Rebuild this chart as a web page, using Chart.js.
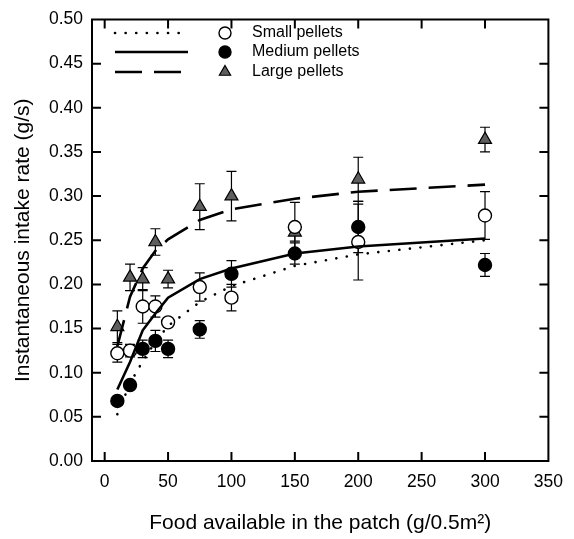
<!DOCTYPE html>
<html><head><meta charset="utf-8">
<script src="https://cdn.jsdelivr.net/npm/chart.js@4.4.1/dist/chart.umd.min.js"></script>
<style>html,body{margin:0;padding:0;background:#fff}canvas{display:block}</style>
</head><body>
<canvas id="c" width="574" height="539"></canvas>
<script>
// ---- data ----
const food = [10, 20, 30, 40, 50, 75, 100, 150, 200, 300];
const smallMean  = [0.122, 0.125, 0.175, 0.175, 0.157, 0.197, 0.185, 0.265, 0.248, 0.278];
const smallErr   = [0.010, 0.007, 0.019, 0.012, 0.004, 0.016, 0.015, 0.028, 0.043, 0.027];
const mediumMean = [0.068, 0.086, 0.127, 0.136, 0.127, 0.149, 0.212, 0.235, 0.265, 0.222];
const mediumErr  = [0.002, 0.002, 0.010, 0.012, 0.010, 0.010, 0.015, 0.012, 0.029, 0.013];
const largeMean  = [0.152, 0.208, 0.206, 0.248, 0.206, 0.288, 0.300, 0.259, 0.319, 0.364];
const largeErr   = [0.018, 0.015, 0.013, 0.015, 0.010, 0.026, 0.028, 0.010, 0.025, 0.014];
const smallFit   = [0.053, 0.088, 0.113, 0.135, 0.153, 0.180, 0.198, 0.221, 0.234, 0.250];
const mediumFit  = [0.081, 0.112, 0.148, 0.167, 0.185, 0.206, 0.218, 0.235, 0.243, 0.252];
const largeFit   = [0.130, 0.186, 0.218, 0.238, 0.251, 0.273, 0.285, 0.297, 0.305, 0.313];
const xTicks = [0, 50, 100, 150, 200, 250, 300, 350];
const yTicks = [0, 0.05, 0.10, 0.15, 0.20, 0.25, 0.30, 0.35, 0.40, 0.45, 0.50];
const seriesNames = ['Small pellets', 'Medium pellets', 'Large pellets'];
const xTitle = 'Food available in the patch (g/0.5m\u00B2)';
const yTitle = 'Instantaneous intake rate (g/s)';

const pts = (ys) => food.map((x, i) => ({x: x, y: ys[i]}));
const FONT = '"Liberation Sans", Arial, Helvetica, sans-serif';

const styles = {
  dotted: {borderColor: '#000', borderWidth: 2.6, borderDash: [0.1, 10.5], borderCapStyle: 'round'},
  solid:  {borderColor: '#000', borderWidth: 2.6, borderDash: []},
  dashed: {borderColor: '#000', borderWidth: 2.6, borderDash: [27, 12]}
};
const markers = [
  {pointStyle: 'circle', pointRadius: 6.5, pointBackgroundColor: '#fff', pointBorderColor: '#000', pointBorderWidth: 1.4},
  {pointStyle: 'circle', pointRadius: 6.5, pointBackgroundColor: '#000', pointBorderColor: '#000', pointBorderWidth: 1.4},
  {pointStyle: 'triangle', pointRadius: 7.5, pointBackgroundColor: '#5e5e5e', pointBorderColor: '#000', pointBorderWidth: 1.2}
];

const errorSets = [
  {mean: smallMean, err: smallErr},
  {mean: mediumMean, err: mediumErr},
  {mean: largeMean, err: largeErr}
];

function lineDs(data, st) {
  return Object.assign({type: 'scatter', data: pts(data), showLine: true, pointRadius: 0,
    pointHoverRadius: 0, fill: false, tension: 0}, st);
}
function markDs(data, mk) {
  return Object.assign({type: 'scatter', data: pts(data), showLine: false}, mk);
}

const framePlugin = {
  id: 'frame',
  beforeDatasetsDraw(chart) {
    const {ctx, scales: {x, y}} = chart;
    ctx.save();
    ctx.strokeStyle = '#000';
    ctx.lineWidth = 1.2;
    errorSets.forEach(s => {
      s.mean.forEach((m, i) => {
        const px = x.getPixelForValue(food[i]);
        const yt = y.getPixelForValue(m + s.err[i]);
        const yb = y.getPixelForValue(m - s.err[i]);
        ctx.beginPath();
        ctx.moveTo(px, yt); ctx.lineTo(px, yb);
        ctx.moveTo(px - 5, yt); ctx.lineTo(px + 5, yt);
        ctx.moveTo(px - 5, yb); ctx.lineTo(px + 5, yb);
        ctx.stroke();
      });
    });
    ctx.restore();
  },
  afterDraw(chart) {
    const {ctx, chartArea: a, scales: {x, y}} = chart;
    ctx.save();
    ctx.strokeStyle = '#000';
    ctx.lineWidth = 2;
    ctx.lineCap = 'butt';
    ctx.strokeRect(a.left, a.top, a.right - a.left, a.bottom - a.top);
    const tl = 9;
    ctx.beginPath();
    xTicks.forEach(v => {
      const px = x.getPixelForValue(v);
      if (px <= a.left + 1 || px >= a.right - 1) return;
      ctx.moveTo(px, a.bottom); ctx.lineTo(px, a.bottom - tl);
      ctx.moveTo(px, a.top); ctx.lineTo(px, a.top + tl);
    });
    yTicks.forEach(v => {
      const py = y.getPixelForValue(v);
      if (py >= a.bottom - 1 || py <= a.top + 1) return;
      ctx.moveTo(a.left, py); ctx.lineTo(a.left + tl, py);
      ctx.moveTo(a.right, py); ctx.lineTo(a.right - tl, py);
    });
    ctx.stroke();

    // legend
    const rows = [33, 52, 72];
    const lineSt = [styles.dotted, styles.solid, styles.dashed];
    const x0 = 115, x1 = 188, mx = 225, tx = 252;
    rows.forEach((ry, i) => {
      const st = lineSt[i];
      ctx.save();
      ctx.lineWidth = st.borderWidth;
      ctx.setLineDash(st.borderDash);
      ctx.lineCap = st.borderCapStyle || 'butt';
      ctx.beginPath(); ctx.moveTo(x0, ry); ctx.lineTo(x1, ry); ctx.stroke();
      ctx.restore();
      const mk = markers[i];
      ctx.save();
      ctx.fillStyle = mk.pointBackgroundColor;
      ctx.strokeStyle = mk.pointBorderColor;
      ctx.lineWidth = mk.pointBorderWidth;
      ctx.beginPath();
      if (mk.pointStyle === 'triangle') {
        const r = 6.5;
        ctx.moveTo(mx, ry - r);
        ctx.lineTo(mx + r * 0.866, ry + r * 0.5);
        ctx.lineTo(mx - r * 0.866, ry + r * 0.5);
        ctx.closePath();
      } else {
        ctx.arc(mx, ry, 6, 0, Math.PI * 2);
      }
      ctx.fill(); ctx.stroke();
      ctx.restore();
      ctx.fillStyle = '#000';
      ctx.font = '16px ' + FONT;
      ctx.textBaseline = 'middle';
      ctx.textAlign = 'left';
      ctx.fillText(seriesNames[i], tx, ry);
    });
    ctx.restore();
  }
};

new Chart(document.getElementById('c'), {
  type: 'scatter',
  data: {
    datasets: [
      lineDs(smallFit, styles.dotted),
      lineDs(mediumFit, styles.solid),
      lineDs(largeFit, styles.dashed),
      markDs(smallMean, markers[0]),
      markDs(mediumMean, markers[1]),
      markDs(largeMean, markers[2])
    ]
  },
  options: {
    responsive: false,
    animation: false,
    devicePixelRatio: 1,
    layout: {padding: {top: 14, right: 19, left: 0, bottom: 0}},
    plugins: {legend: {display: false}, tooltip: {enabled: false}},
    scales: {
      x: {
        type: 'linear', min: -10, max: 350,
        afterBuildTicks: s => { s.ticks = xTicks.map(v => ({value: v})); },
        afterFit: s => { s.height = 78; },
        grid: {display: false, drawTicks: false},
        border: {display: false},
        ticks: {color: '#000', font: {family: FONT, size: 17.5}, padding: 11, maxRotation: 0,
          callback: v => String(v)},
        title: {display: true, text: xTitle, color: '#000', font: {family: FONT, size: 21},
          padding: {top: 0, bottom: 3}}
      },
      y: {
        type: 'linear', min: 0, max: 0.5,
        afterBuildTicks: s => { s.ticks = yTicks.map(v => ({value: v})); },
        afterFit: s => { s.width = 92; },
        grid: {display: false, drawTicks: false},
        border: {display: false},
        ticks: {color: '#000', font: {family: FONT, size: 17.5}, padding: 9,
          callback: v => Number(v).toFixed(2)},
        title: {display: true, text: yTitle, color: '#000', font: {family: FONT, size: 21},
          padding: {top: 11, bottom: 0}}
      }
    }
  },
  plugins: [framePlugin]
});
</script>
</body></html>
